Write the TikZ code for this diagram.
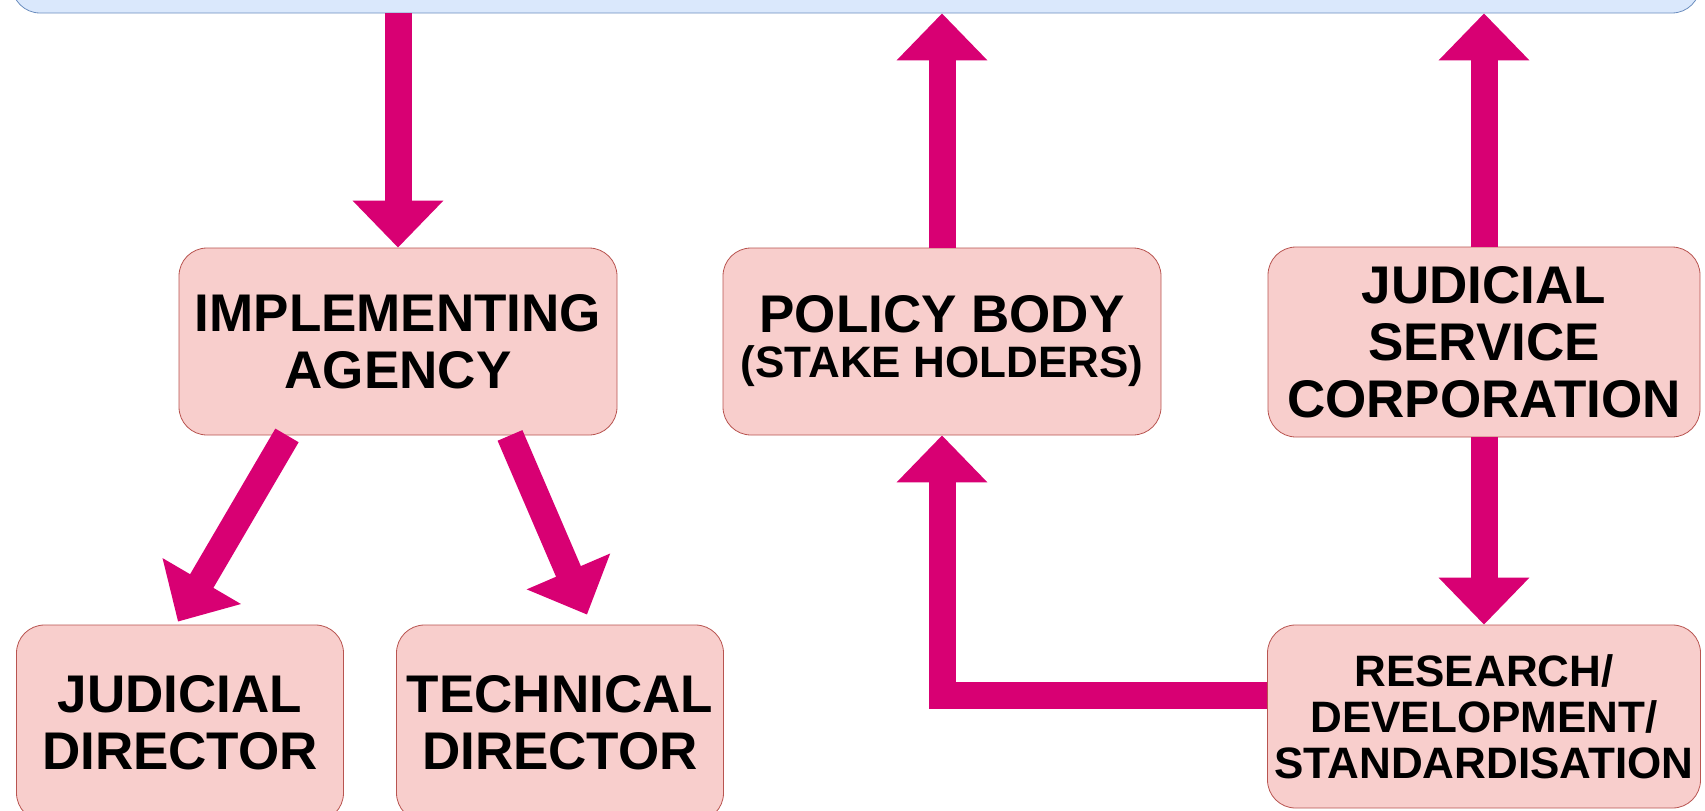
\documentclass[tikz,border=0pt]{standalone}
\usepackage{fontspec}
\setmainfont{Liberation Sans}
\usetikzlibrary{arrows.meta,positioning}
\definecolor{boxFill}{HTML}{F8CECC}
\definecolor{boxLine}{HTML}{B85450}
\definecolor{topFill}{HTML}{DAE8FC}
\definecolor{topLine}{HTML}{6C8EBF}
\definecolor{arrowColor}{HTML}{D80073}
\tikzstyle{canvas} = [x = 1pt, y = -1pt]
\tikzstyle{unitBox} = [draw=boxLine, fill=boxFill, rounded corners = 28pt, thick, align=center, inner sep=0pt, font=\fontsize{53}{57}\selectfont\bfseries]
\tikzstyle{topBoxStyle} = [draw=topLine, fill=topFill, rounded corners = 28pt, thick, inner sep=0pt]
\tikzstyle{flowArrow} = [draw=arrowColor, line width=27pt, -{Triangle[width=88pt, length=47pt]}]
\newcommand{\smallLine}[1]{{\fontsize{44}{46}\selectfont #1}}

\begin{document}
\begin{tikzpicture}[canvas]
  \useasboundingbox (0,0) rectangle (1705,811);
  % top body, only its lower edge shows
  \node [topBoxStyle, minimum width=1688pt, minimum height=90pt] (topBox) at (856,-32) {};

  % middle row
  \node [unitBox, minimum width=438pt, minimum height=187pt] (implementingAgency) at (398,341.5) {IMPLEMENTING\\AGENCY};
  \node [unitBox, minimum width=438pt, minimum height=187pt] (policyBody) at (942,341.5) {POLICY BODY\\[-12pt]\smallLine{(STAKE HOLDERS)}};
  \node [unitBox, minimum width=432pt, minimum height=190pt] (serviceCorp) at (1484,342) {JUDICIAL\\SERVICE\\CORPORATION};

  % bottom row
  \node [unitBox, minimum width=327pt, minimum height=196pt] (judicialDirector) at (180,723) {JUDICIAL\\DIRECTOR};
  \node [unitBox, minimum width=327pt, minimum height=196pt] (technicalDirector) at (560,723) {TECHNICAL\\DIRECTOR};
  \node [unitBox, minimum width=433pt, minimum height=183pt, font=\fontsize{44}{46}\selectfont\bfseries] (researchUnit) at (1484,716.5) {RESEARCH/\\DEVELOPMENT/\\STANDARDISATION};

  % arrows
  \draw [flowArrow] (topBox.south -| implementingAgency) -- (implementingAgency.north);
  \draw [flowArrow] (policyBody.north) -- (topBox.south -| policyBody);
  \draw [flowArrow] (serviceCorp.north) -- (topBox.south -| serviceCorp);
  \draw [flowArrow] (serviceCorp.south) -- (researchUnit.north);
  \draw [flowArrow] ([xshift=-111pt]implementingAgency.south) -- ([xshift=-2pt,yshift=3pt]judicialDirector.north);
  \draw [flowArrow] ([xshift=112pt]implementingAgency.south) -- ([xshift=27pt,yshift=10pt]technicalDirector.north);
  \draw [flowArrow] ([yshift=21pt]researchUnit.west) -| (policyBody.south);
\end{tikzpicture}
\end{document}
